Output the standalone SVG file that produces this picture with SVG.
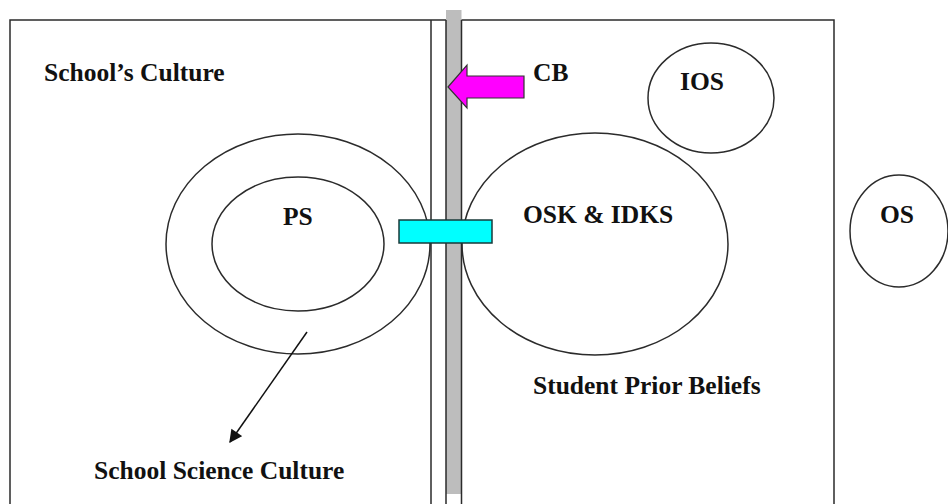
<svg xmlns="http://www.w3.org/2000/svg" width="948" height="504" viewBox="0 0 948 504">
<style>
.ln{fill:none;stroke:#2b2b2b;stroke-width:1.5}
.t{font-family:'Liberation Serif','DejaVu Serif',serif;font-weight:bold;font-size:25.5px;fill:#111}
</style>
<defs>
<marker id="ah" viewBox="0 0 10 10" refX="9" refY="5" markerWidth="14" markerHeight="13" markerUnits="userSpaceOnUse" orient="auto">
<path d="M0,0 L10,5 L0,10 z" fill="#111"/>
</marker>
</defs>
<rect width="948" height="504" fill="#fff"/>
<g id="schools-culture">
<path class="ln" d="M10,506 V20 H446 M431,20 V506"/>
<text class="t" x="44" y="81">School’s Culture</text>
</g>
<g id="barrier">
<rect x="446" y="10" width="15.5" height="484" fill="#bdbdbd"/>
<path class="ln" d="M446,20 V506 M461.5,20 V506"/>
</g>
<g id="student-prior-beliefs">
<path class="ln" d="M461.5,20 H834 V506"/>
<text class="t" x="533" y="394">Student Prior Beliefs</text>
</g>
<g id="school-science-culture">
<ellipse class="ln" cx="298" cy="244" rx="132" ry="110"/>
<text class="t" x="94" y="479">School Science Culture</text>
</g>
<g id="ps">
<ellipse class="ln" cx="298" cy="244" rx="86" ry="67"/>
<text class="t" x="283" y="225">PS</text>
</g>
<g id="osk-idks">
<ellipse class="ln" cx="595" cy="244" rx="133" ry="111"/>
<text class="t" x="523" y="223">OSK &amp; IDKS</text>
</g>
<g id="ios">
<ellipse class="ln" cx="711" cy="98" rx="63" ry="55"/>
<text class="t" x="680" y="90">IOS</text>
</g>
<g id="os">
<ellipse class="ln" cx="899" cy="231" rx="49" ry="56"/>
<text class="t" x="880" y="223">OS</text>
</g>
<g id="cb">
<polygon points="448,87 467,65 467,76 524,76 524,98 467,98 467,108" fill="#ff00ff" stroke="#333" stroke-width="1.2"/>
<text class="t" x="533" y="81">CB</text>
</g>
<g id="bridge">
<rect x="399" y="220" width="93" height="23" fill="#00ffff" stroke="#1a3a3a" stroke-width="1.5"/>
</g>
<g id="connectors">
<line x1="307" y1="332" x2="230" y2="442" stroke="#111" stroke-width="1.5" marker-end="url(#ah)"/>
</g>
</svg>
